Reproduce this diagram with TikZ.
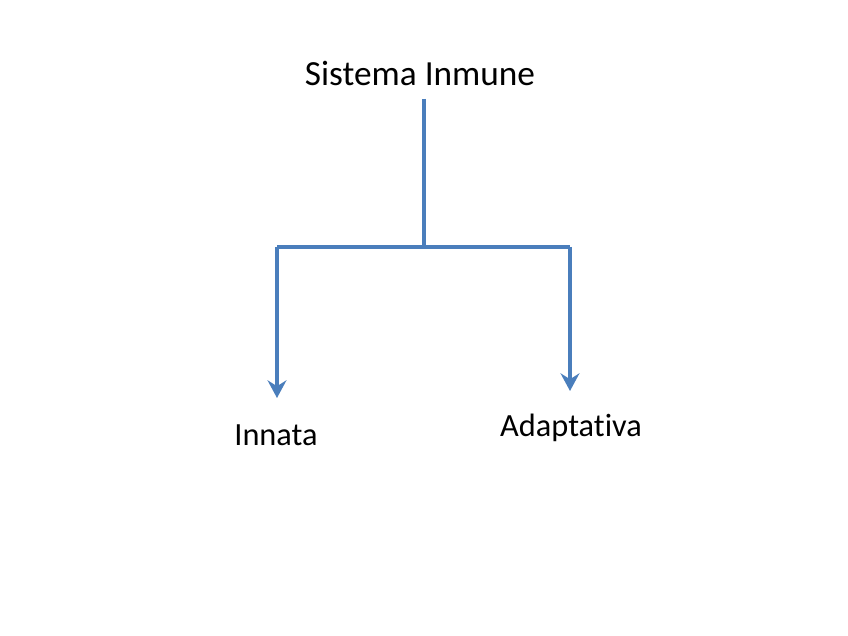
\documentclass[tikz,border=0pt]{standalone}
\usepackage{fontspec}
\setmainfont[Ligatures=NoCommon]{Carlito}
\usetikzlibrary{arrows.meta}
\definecolor{lineblue}{RGB}{74,126,188}

\tikzset{
  title/.style={font=\fontsize{30}{36}\selectfont, inner sep=0pt},
  label/.style={font=\fontsize{27.5}{33}\selectfont, inner sep=0pt},
  branch/.style={lineblue, line width=2.6pt},
  tip/.style={branch, -{Stealth[length=15pt,width=16pt,inset=5pt]}}
}

\begin{document}
\begin{tikzpicture}[x=0.85pt, y=-0.85pt]
  \useasboundingbox[fill=white] (0,0) rectangle (848,636);

  %% Labels
  \node[title] (sys) at (420,73) {Sistema Inmune};
  \node[label] (inn) at (276,435) {Innata};
  \node[label] (ada) at (571,428) {Adaptativa};

  %% Branch points
  \coordinate (stem) at (424,99);
  \coordinate (junc) at (424,247);
  \coordinate (lcorner) at (277,247);
  \coordinate (rcorner) at (570,247);
  \coordinate (ltip) at (277,398);
  \coordinate (rtip) at (570,391);

  \draw[branch] (stem) -- (junc);
  \draw[branch] (lcorner) -- (rcorner);
  \draw[tip] (lcorner) -- (ltip);
  \draw[tip] (rcorner) -- (rtip);

\end{tikzpicture}
\end{document}
